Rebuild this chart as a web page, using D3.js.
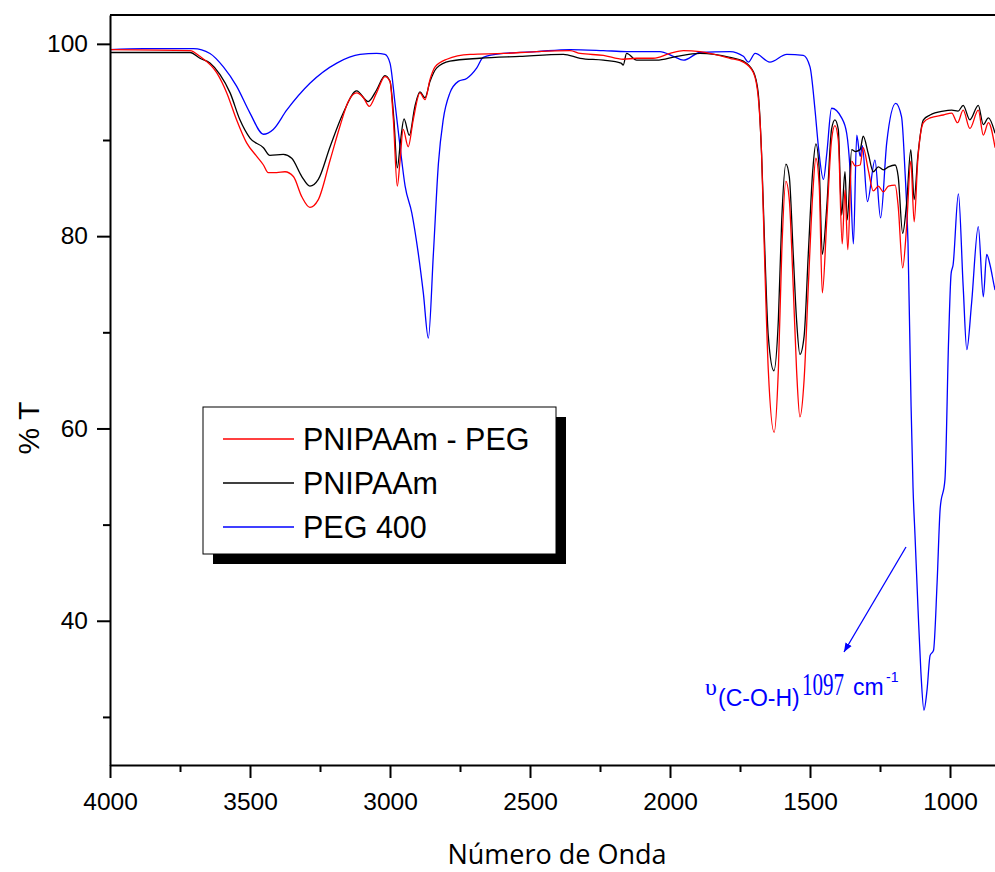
<!DOCTYPE html>
<html>
<head>
<meta charset="utf-8">
<script src="https://cdn.jsdelivr.net/npm/d3@7"></script>
<style>
	body { margin: 0; background: #fff; }
	.axis path, .axis line { stroke: #000; stroke-width: 2px; }
	.axis text { font-family: "Liberation Sans", Arial, sans-serif; font-size: 24.5px; fill: #000; }
	.spectrum { fill: none; stroke-width: 1.3px; stroke-linejoin: round; }
</style>
</head>
<body>
<div id="chart-div"></div>
<script>
//Data: wavenumber (cm-1) and transmittance (%T) for each spectrum

	//PNIPAAm - PEG (red)
	var copolyWn = [4000,3714,3679,3619,3583,3548,3512,3476,3452,3435,3405,3375,3345,3315,3286,3256,3214,3179,3149,3119,3095,3074,3048,3018,3000,2988,2974,2964,2953,2935,2917,2893,2875,2857,2839,2797,2714,2595,2476,2357,2321,2238,2167,2119,2060,2000,1952,1893,1786,1738,1702,1685,1673,1661,1649,1628,1613,1601,1586,1574,1560,1548,1536,1521,1506,1490,1479,1467,1456,1440,1423,1411,1399,1385,1375,1365,1351,1339,1321,1310,1292,1274,1256,1238,1220,1196,1185,1169,1155,1140,1128,1115,1095,1071,1024,994,973,953,929,899,881,863,839];
	var copolyT = [99.4,99.3,98.7,97.0,94.9,92.1,89.7,88.3,87.4,86.6,86.6,86.7,86.2,84.1,83.0,83.8,87.9,91.4,94.0,94.9,94.4,93.5,94.9,96.6,96.1,92.1,85.2,87.9,91.1,89.3,92.1,94.9,94.2,96.3,97.6,98.4,98.9,99.0,99.2,99.3,99.0,98.8,98.4,98.5,98.5,99.0,99.3,99.2,98.5,98.1,97.0,94.5,88.6,76.5,66.1,59.6,66.1,78.2,85.7,83.8,74.8,66.1,61.2,65.1,74.8,84.5,88.1,85.2,74.1,81.7,90.0,91.5,90.0,79.2,84.8,78.6,87.8,87.3,87.4,89.2,86.9,84.7,85.2,84.6,85.2,85.3,83.1,76.7,81.0,87.8,81.5,87.9,91.8,92.3,92.6,92.8,91.8,93.1,91.2,93.1,90.5,91.8,89.2];

	//PNIPAAm (black)
	var pnipaamWn = [4000,3714,3679,3643,3607,3571,3536,3500,3452,3429,3381,3351,3315,3286,3256,3214,3167,3119,3078,3048,3018,3000,2986,2974,2962,2950,2931,2911,2893,2875,2857,2833,2786,2679,2536,2381,2321,2238,2175,2167,2155,2119,2048,1976,1893,1786,1738,1702,1685,1673,1661,1649,1629,1613,1601,1586,1574,1560,1548,1536,1521,1506,1490,1479,1467,1456,1440,1423,1411,1399,1387,1375,1367,1351,1339,1321,1310,1292,1274,1256,1238,1220,1196,1185,1169,1155,1140,1128,1115,1095,1071,1024,994,971,953,929,899,881,863,839];
	var pnipaamT = [99.1,99.1,98.5,98.0,96.8,94.9,92.1,90.2,89.2,88.4,88.5,88.1,86.2,85.2,85.9,89.3,92.8,95.1,94.0,95.2,96.7,96.1,92.1,87.1,90.0,92.2,90.5,93.5,95.0,94.4,96.1,97.5,98.2,98.5,98.7,98.9,98.5,98.3,98.0,97.8,99.0,98.3,98.3,98.7,99.0,98.6,98.2,97.1,94.9,88.6,78.2,69.6,66.0,71.3,81.7,87.5,86.2,78.2,71.3,67.7,69.6,78.2,86.9,89.6,86.9,78.1,83.1,91.1,92.1,91.1,82.2,86.7,81.7,89.0,88.8,89.0,90.4,88.6,86.7,87.2,86.9,87.2,87.4,86.2,80.3,83.4,89.0,83.8,88.3,92.1,92.6,93.0,93.1,93.0,93.6,92.1,93.6,91.6,92.3,90.7];

	//PEG 400 (blue)
	var pegWn = [4000,3881,3702,3643,3595,3548,3500,3452,3417,3369,3286,3190,3107,3048,3018,3000,2982,2964,2946,2922,2899,2881,2863,2845,2827,2810,2786,2756,2726,2690,2667,2595,2476,2357,2238,2155,2036,1988,1952,1893,1786,1738,1720,1696,1643,1583,1524,1500,1482,1470,1452,1440,1423,1387,1369,1357,1345,1333,1321,1313,1295,1268,1248,1226,1194,1173,1161,1150,1139,1132,1125,1114,1104,1093,1082,1071,1059,1046,1035,1018,1005,996,989,970,953,940,923,899,881,869,857,842,839];
	var pegT = [99.4,99.5,99.5,99.0,97.6,95.6,92.8,90.6,91.1,93.1,95.9,98.0,98.9,99.0,98.9,98.0,93.8,89.3,85.2,82.4,78.2,74.1,69.4,78.2,87.6,92.1,94.9,96.1,96.4,97.5,98.6,99.0,99.2,99.4,99.3,99.2,99.2,98.7,98.3,99.1,99.2,98.7,98.1,99.0,98.1,98.9,98.8,97.6,93.1,89.3,85.9,88.6,93.3,92.3,90.7,86.9,79.2,90.5,88.3,89.4,83.6,87.9,81.9,89.7,93.8,92.4,86.9,79.3,62.3,53.8,48.9,41.1,34.7,30.7,32.8,36.4,36.9,44.0,51.7,54.7,69.2,76.1,77.0,84.4,74.8,68.2,73.0,81.0,73.7,78.1,77.0,74.8,74.4];

	//Series names and colours, in legend order
	var seriesNames = ["PNIPAAm - PEG", "PNIPAAm", "PEG 400"];
	var seriesColors = ["#ff0000", "#000000", "#0000ff"];

	//Axis ticks
	var xMajorTicks = [4000, 3500, 3000, 2500, 2000, 1500, 1000];
	var xMinorTicks = [3750, 3250, 2750, 2250, 1750, 1250];
	var yMajorTicks = [100, 80, 60, 40];
	var yMinorTicks = [90, 70, 50, 30];

//Canvas
	var W = 995, H = 872;
	var margin = {top: 15, right: 0, bottom: 107, left: 110},
		w = 886,
		h = H - margin.top - margin.bottom;

	var xScale = d3.scaleLinear().domain([4000, 4000 - w / 0.28]).range([0, w]);
	var yScale = d3.scaleLinear().domain([25, 103]).range([h, 0]);

	var svg = d3.select("#chart-div")
		.append("svg")
		.attr("width", W)
		.attr("height", H)
		.append("g")
			.attr("transform", "translate(" + margin.left + "," + margin.top + ")");

	svg.append("clipPath").attr("id", "plot-clip")
		.append("rect").attr("x", 0).attr("y", 0).attr("width", w).attr("height", h);

//Build the series from the arrays
	var series = [
		{name: seriesNames[0], color: seriesColors[0], wn: copolyWn, t: copolyT},
		{name: seriesNames[1], color: seriesColors[1], wn: pnipaamWn, t: pnipaamT},
		{name: seriesNames[2], color: seriesColors[2], wn: pegWn, t: pegT}
	];
	series.forEach(function(s) {
		s.points = s.wn.map(function(d, i) { return {wn: d, t: s.t[i]}; });
	});

	var line = d3.line()
		.x(function(d) { return xScale(d.wn); })
		.y(function(d) { return yScale(d.t); })
		.curve(d3.curveMonotoneX);

	//Draw blue first, then black, then red on top
	svg.append("g").attr("clip-path", "url(#plot-clip)")
		.selectAll("path")
		.data(series.slice().reverse())
		.enter()
		.append("path")
			.attr("class", "spectrum")
			.attr("stroke", function(d) { return d.color; })
			.attr("d", function(d) { return line(d.points); });

//Axes
	svg.append("g")
		.attr("class", "axis x-axis")
		.attr("transform", "translate(0," + h + ")")
		.call(d3.axisBottom(xScale).tickValues(xMajorTicks).tickSize(13).tickPadding(15).tickSizeOuter(0).tickFormat(d3.format("d")));

	svg.append("g")
		.attr("class", "axis x-minor")
		.attr("transform", "translate(0," + h + ")")
		.call(d3.axisBottom(xScale).tickValues(xMinorTicks).tickSize(7).tickSizeOuter(0).tickFormat(""))
		.select(".domain").remove();

	svg.append("g")
		.attr("class", "axis y-axis")
		.call(d3.axisLeft(yScale).tickValues(yMajorTicks).tickSize(13).tickPadding(9).tickSizeOuter(0));

	svg.append("g")
		.attr("class", "axis y-minor")
		.call(d3.axisLeft(yScale).tickValues(yMinorTicks).tickSize(7).tickSizeOuter(0).tickFormat(""))
		.select(".domain").remove();

	//Top frame line
	svg.append("line")
		.attr("x1", 0).attr("x2", w)
		.attr("y1", 0).attr("y2", 0)
		.attr("stroke", "#000").attr("stroke-width", 2);

	//Axis titles
	svg.append("text")
		.text("Número de Onda")
		.attr("x", 557 - margin.left)
		.attr("y", 864 - margin.top)
		.attr("text-anchor", "middle")
		.style("font-family", "'Open Sans', sans-serif")
		.style("font-size", "27px");

	svg.append("text")
		.text("% T")
		.attr("text-anchor", "middle")
		.attr("transform", "translate(" + (39 - margin.left) + "," + (428 - margin.top) + ") rotate(-90)")
		.style("font-family", "'Liberation Sans', Arial, sans-serif")
		.style("font-size", "30px");

//Legend
	var legend = svg.append("g")
		.attr("transform", "translate(" + (203 - margin.left) + "," + (407 - margin.top) + ")");

	legend.append("rect")
		.attr("x", 10).attr("y", 10)
		.attr("width", 353).attr("height", 147)
		.attr("fill", "#000");

	legend.append("rect")
		.attr("x", 0).attr("y", 0)
		.attr("width", 353).attr("height", 147)
		.attr("fill", "#fff")
		.attr("stroke", "#000")
		.attr("stroke-width", 1);

	var legendRows = legend.selectAll(".legend-row")
		.data(series)
		.enter()
		.append("g")
			.attr("class", "legend-row")
			.attr("transform", function(d, i) { return "translate(0," + (32 + i * 44) + ")"; });

	legendRows.append("line")
		.attr("x1", 20).attr("x2", 91)
		.attr("y1", 0).attr("y2", 0)
		.attr("stroke", function(d) { return d.color; })
		.attr("stroke-width", 1.3);

	legendRows.append("text")
		.text(function(d) { return d.name; })
		.attr("x", 100)
		.attr("y", 11)
		.style("font-family", "'Liberation Sans', Arial, sans-serif")
		.style("font-size", "30.5px");

//Annotation for the 1097 band
	svg.append("defs").append("marker")
		.attr("id", "arrow-head")
		.attr("viewBox", "0 0 10 10")
		.attr("refX", 10).attr("refY", 5)
		.attr("markerWidth", 9).attr("markerHeight", 9)
		.attr("markerUnits", "userSpaceOnUse")
		.attr("orient", "auto")
		.append("path")
			.attr("d", "M0,1 L10,5 L0,9 Z")
			.attr("fill", "#0000ff");

	svg.append("line")
		.attr("x1", 906 - margin.left).attr("y1", 547 - margin.top)
		.attr("x2", 844 - margin.left).attr("y2", 652 - margin.top)
		.attr("stroke", "#0000ff")
		.attr("stroke-width", 1.3)
		.attr("marker-end", "url(#arrow-head)");

	//Each piece of the label placed on its own so the sizes do not collide
	var noteG = svg.append("g")
		.attr("fill", "#0000ff")
		.style("font-family", "'Liberation Sans', Arial, sans-serif");

	noteG.append("text").text("υ")
		.attr("x", 705 - margin.left).attr("y", 695 - margin.top)
		.style("font-family", "'Liberation Serif', 'Times New Roman', serif")
		.style("font-size", "24px");
	noteG.append("text").text("(C-O-H)")
		.attr("x", 718 - margin.left).attr("y", 706 - margin.top)
		.style("font-size", "23px");
	//Narrow serif digits: squeeze horizontally with a transform
	noteG.append("text").text("1097")
		.attr("transform", "translate(" + (802 - margin.left) + "," + (695 - margin.top) + ") scale(0.68,1)")
		.style("font-family", "'Liberation Serif', 'Times New Roman', serif")
		.style("font-size", "31px");
	noteG.append("text").text("cm")
		.attr("x", 853 - margin.left).attr("y", 695 - margin.top)
		.style("font-size", "23px");
	noteG.append("text").text("-1")
		.attr("x", 886 - margin.left).attr("y", 682 - margin.top)
		.style("font-size", "14px");
</script>
</body>
</html>
